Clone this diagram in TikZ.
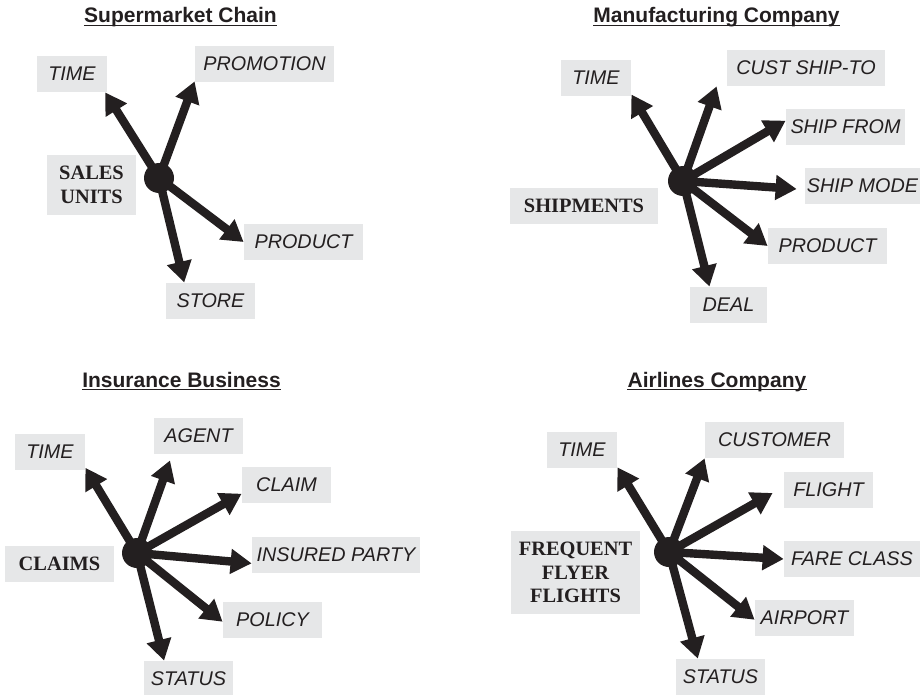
\documentclass[tikz,border=0pt]{standalone}
\usepackage{fontspec}
\setmainfont{Liberation Serif}
\setsansfont{Liberation Sans}
\usepackage{tikz}
\usetikzlibrary{arrows.meta}
\definecolor{ink}{HTML}{231F20}
\definecolor{boxgray}{HTML}{E6E7E8}

\begin{document}
\begin{tikzpicture}[x=0.5pt, y=-0.5pt, >={Triangle[length=10.5pt,width=12pt]},
    dim/.style={fill=boxgray, text=ink, inner sep=0pt, minimum height=18pt, font=\sffamily\itshape\fontsize{9.9}{12}\selectfont},
    fact/.style={fill=boxgray, text=ink, inner sep=0pt, align=center, font=\bfseries\fontsize{10.2}{11.8}\selectfont},
    heading/.style={anchor=base, inner sep=0pt, text=ink, font=\sffamily\bfseries\fontsize{10.5}{12}\selectfont},
    hub/.style={circle, fill=ink, inner sep=0pt, minimum size=15pt},
    spoke/.style={->, draw=ink, line width=4.2pt}]
    \useasboundingbox (0,0) rectangle (920,695);

    % Supermarket Chain
    \node[heading] (ttl1) at (180.5,23) {Supermarket Chain};
    \draw[ink, line width=0.6pt] ([yshift=-1.2pt]ttl1.base west) -- ([yshift=-1.2pt]ttl1.base east);
    \node[dim, minimum width=35pt] (time1) at (72,74) {TIME};
    \node[dim, minimum width=69.5pt] (promo1) at (264.5,64) {PROMOTION};
    \node[fact, minimum width=44.5pt, minimum height=30pt] (sales1) at (91.5,185) {SALES\\UNITS};
    \node[dim, minimum width=59.5pt] (product1) at (303.5,242) {PRODUCT};
    \node[dim, minimum width=44.5pt] (store1) at (210.5,301) {STORE};
    \node[hub] (hub1) at (159,178) {};
    \draw[spoke] (hub1.center) -- (time1.-29);
    \draw[spoke] (hub1.center) -- (promo1.194);
    \draw[spoke] (hub1.center) -- (product1.west);
    \draw[spoke] (hub1.center) -- (store1.145);

    % Manufacturing Company
    \node[heading] (ttl2) at (716.5,23) {Manufacturing Company};
    \draw[ink, line width=0.6pt] ([yshift=-1.2pt]ttl2.base west) -- ([yshift=-1.2pt]ttl2.base east);
    \node[dim, minimum width=35pt] (time2) at (596,78) {TIME};
    \node[dim, minimum width=79pt] (cust2) at (806,68) {CUST SHIP-TO};
    \node[dim, minimum width=59.5pt] (shipfrom2) at (845.5,127) {SHIP FROM};
    \node[dim, minimum width=57.5pt] (shipmode2) at (862.5,186) {SHIP MODE};
    \node[fact, minimum width=74pt, minimum height=18pt] (shipments2) at (584,206) {SHIPMENTS};
    \node[dim, minimum width=59.5pt] (product2) at (827.5,246) {PRODUCT};
    \node[dim, minimum width=38.5pt] (deal2) at (728.5,305) {DEAL};
    \node[hub] (hub2) at (683,181) {};
    \draw[spoke] (hub2.center) -- (time2.-25);
    \draw[spoke] (hub2.center) -- ([shift={(-10,0)}]cust2.south west);
    \draw[spoke] (hub2.center) -- (shipfrom2.174);
    \draw[spoke] (hub2.center) -- ([shift={(-8,3)}]shipmode2.west);
    \draw[spoke] (hub2.center) -- (product2.west);
    \draw[spoke] (hub2.center) -- (deal2.136);

    % Insurance Business
    \node[heading] (ttl3) at (181.5,387) {Insurance Business};
    \draw[ink, line width=0.6pt] ([yshift=-1.2pt]ttl3.base west) -- ([yshift=-1.2pt]ttl3.base east);
    \node[dim, minimum width=35pt] (time3) at (50,452) {TIME};
    \node[dim, minimum width=44.5pt] (agent3) at (198.5,436) {AGENT};
    \node[dim, minimum width=44.5pt] (claim3) at (286.5,485) {CLAIM};
    \node[dim, minimum width=84pt] (insured3) at (336,554.5) {INSURED PARTY};
    \node[fact, minimum width=54.5pt, minimum height=18pt] (claims3) at (59.5,564) {CLAIMS};
    \node[dim, minimum width=49.5pt] (policy3) at (272.5,620) {POLICY};
    \node[dim, minimum width=44.5pt] (status3) at (188.5,679) {STATUS};
    \node[hub] (hub3) at (137,553) {};
    \draw[spoke] (hub3.center) -- (time3.-24);
    \draw[spoke] (hub3.center) -- ([shift={(-28.5,6)}]agent3.south);
    \draw[spoke] (hub3.center) -- (claim3.191);
    \draw[spoke] (hub3.center) -- (insured3.186);
    \draw[spoke] (hub3.center) -- (policy3.182);
    \draw[spoke] (hub3.center) -- (status3.143);

    % Airlines Company
    \node[heading] (ttl4) at (717,387) {Airlines Company};
    \draw[ink, line width=0.6pt] ([yshift=-1.2pt]ttl4.base west) -- ([yshift=-1.2pt]ttl4.base east);
    \node[dim, minimum width=35pt] (time4) at (582,450) {TIME};
    \node[dim, minimum width=69.5pt] (customer4) at (774.5,440) {CUSTOMER};
    \node[dim, minimum width=44.5pt] (flight4) at (828.5,489.5) {FLIGHT};
    \node[dim, minimum width=68pt] (fare4) at (852,559) {FARE CLASS};
    \node[fact, minimum width=64.5pt, minimum height=41.5pt] (freq4) at (575.5,572.5) {FREQUENT\\FLYER\\FLIGHTS};
    \node[dim, minimum width=49.5pt] (airport4) at (804.5,618) {AIRPORT};
    \node[dim, minimum width=44.5pt] (status4) at (720.5,677) {STATUS};
    \node[hub] (hub4) at (669,552) {};
    \draw[spoke] (hub4.center) -- (time4.-26);
    \draw[spoke] (hub4.center) -- (customer4.south west);
    \draw[spoke] (hub4.center) -- ([shift={(-11,3.5)}]flight4.west);
    \draw[spoke] (hub4.center) -- (fare4.west);
    \draw[spoke] (hub4.center) -- (airport4.182);
    \draw[spoke] (hub4.center) -- (status4.141);
\end{tikzpicture}
\end{document}
